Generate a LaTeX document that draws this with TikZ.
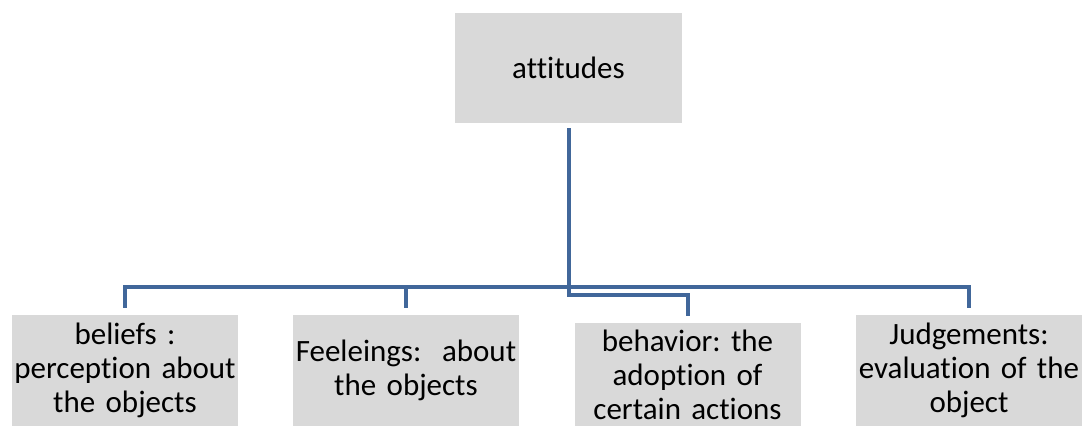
\documentclass[tikz,border=0pt]{standalone}
\usepackage{fontspec}
\setmainfont{Carlito}[Ligatures=NoCommon]
\usepackage{tikz}
\usetikzlibrary{positioning, calc}
\usepackage{xcolor}
\definecolor{linkblue}{RGB}{65, 103, 154}
\definecolor{boxgray}{RGB}{217, 217, 217}
\frenchspacing

\begin{document}
\begin{tikzpicture}[x=1pt, y=-1pt,
    box/.style={fill=boxgray, minimum width=226pt, minimum height=111pt,
                inner sep=0pt, text width=224pt, align=center,
                font=\fontsize{31}{34}\selectfont},
    link/.style={draw=linkblue, line width=4pt, shorten <=5pt, shorten >=7pt}]
  \useasboundingbox (0,0) rectangle (1082,426);

  % top of the tree
  \node[box, minimum width=227pt, minimum height=110pt] (attitudes) at (568.5,68) {attitudes};

  % the four components
  \node[box] (beliefs) at (125,370.5) {beliefs :\\ perception about\\ the objects};
  \node[box] (feelings) at (406,370.5) {Feeleings:~ about\\ the objects};
  \node[box, minimum height=103pt] (behavior) at (687.5,374.5) {behavior: the\\ adoption of\\ certain actions};
  \node[box] (judgements) at (969,370.5) {Judgements:\\ evaluation of the\\ object};

  % elbow connectors
  \coordinate (bus) at (0,287);
  \coordinate (bus2) at (0,295);
  \draw[link] (attitudes) -- (attitudes |- bus) -| (beliefs);
  \draw[link] (attitudes) -- (attitudes |- bus) -| (feelings);
  \draw[link] (attitudes) -- (attitudes |- bus) -| (judgements);
  \draw[link] (attitudes) -- (attitudes |- bus2) -| (behavior);
\end{tikzpicture}
\end{document}
